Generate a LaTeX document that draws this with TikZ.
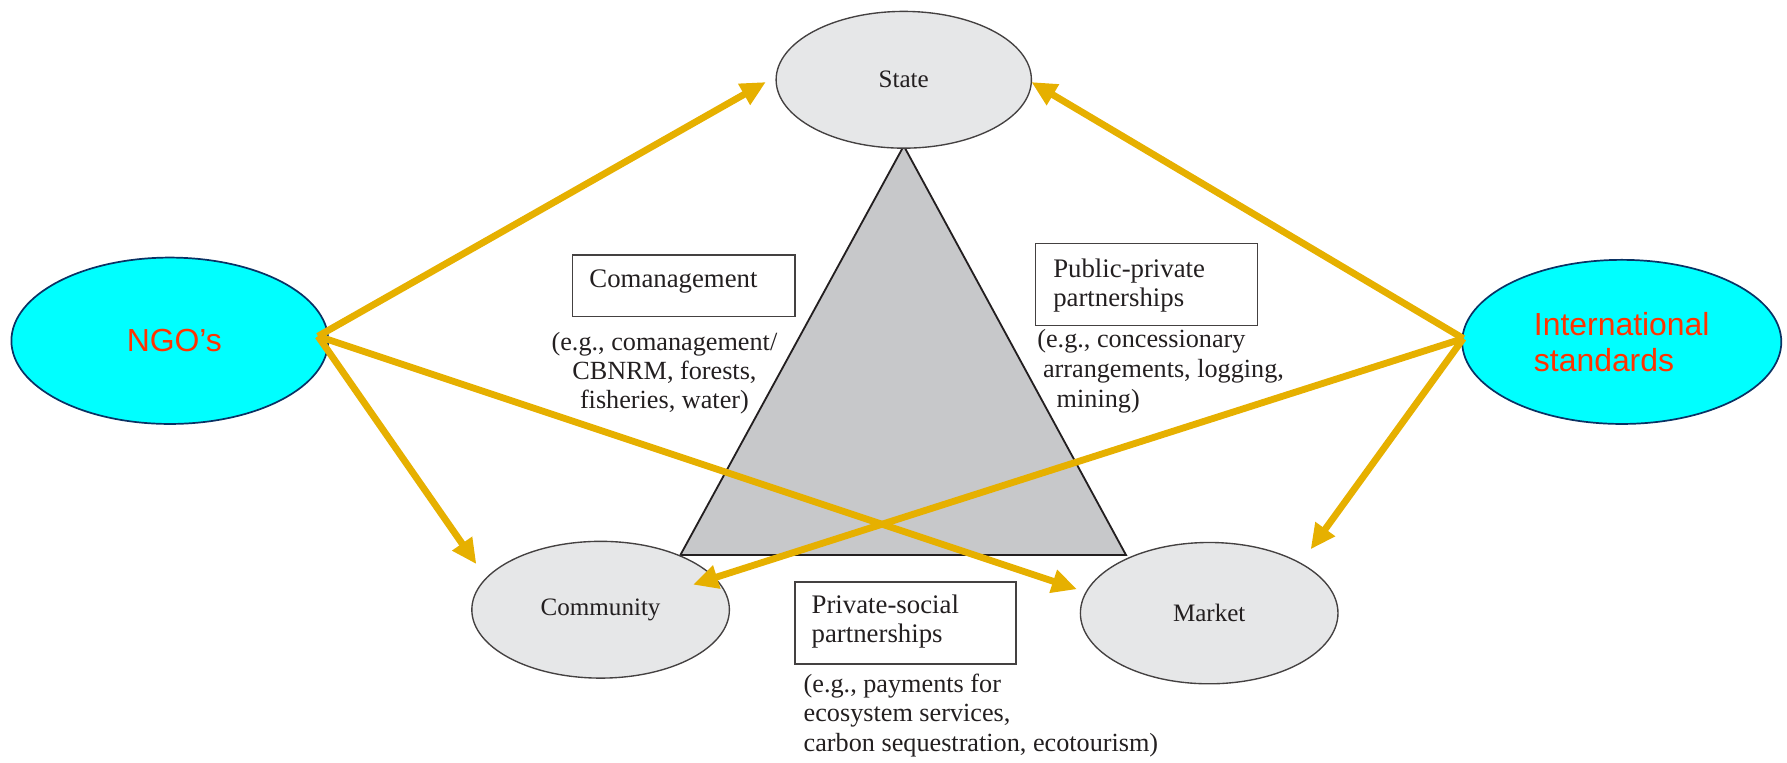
\documentclass[tikz,border=0pt]{standalone}
\usepackage{fontspec}
\setmainfont{Liberation Serif}
\newfontfamily\arialf{Liberation Sans}
\usetikzlibrary{shapes.geometric,arrows.meta}
\definecolor{ellgray}{RGB}{230,231,232}
\definecolor{trigray}{RGB}{199,200,202}
\definecolor{aqua}{RGB}{0,255,255}
\definecolor{ngored}{RGB}{255,51,0}
\definecolor{navyline}{RGB}{10,50,100}
\definecolor{gold}{RGB}{230,176,0}
\definecolor{ink}{RGB}{35,31,32}
\begin{document}
\begin{tikzpicture}[x=1pt,y=-1pt,
  grayell/.style={ellipse, draw=ink!85, line width=1.2pt, fill=ellgray, inner sep=0pt, text=ink,
    font=\fontsize{22}{26}\selectfont},
  cyanell/.style={ellipse, draw=navyline, line width=1.5pt, fill=aqua, inner sep=0pt, text=ngored,
    align=left, font=\arialf\fontsize{28}{32}\selectfont},
  labbox/.style={draw=ink!85, line width=1.2pt, fill=white, inner sep=0pt, anchor=north west},
  boxtext/.style={align=left, inner sep=0pt, text=ink, font=\fontsize{23.5}{25.5}\selectfont},
  desc/.style={inner sep=0pt, text=ink, font=\fontsize{23}{26}\selectfont},
  conn/.style={draw=gold, line width=6pt, -{Triangle[length=22pt,width=20pt]}}]
\useasboundingbox (0,0) rectangle (1568,669);
% triangle
\coordinate (apex) at (793,128);
\coordinate (bl) at (597,487);
\coordinate (br) at (988,487);
\filldraw[fill=trigray, draw=ink, line width=1.6pt, line join=miter] (apex) -- (bl) -- (br) -- cycle;
% ellipses
\node[grayell, minimum width=224, minimum height=120] (state) at (793,70) {State};
\node[grayell, minimum width=226, minimum height=120] (community) at (527,535) {Community};
\node[grayell, minimum width=226, minimum height=124] (market) at (1061,538) {Market};
\node[cyanell, minimum width=278, minimum height=146] (ngo) at (149,299) {\hspace{8pt}NGO’s};
\node[cyanell, minimum width=280, minimum height=144] (intl) at (1423,300) {International\\standards};
% boxes
\node[labbox, minimum width=195, minimum height=54] (cobox) at (502,223) {};
\node[boxtext, anchor=base west] (cotext) at (517,252) {Comanagement};
\node[labbox, minimum width=195, minimum height=72] (ppbox) at (908,213) {};
\node[boxtext, anchor=north west] (pptext) at (924,227) {Public-private\\partnerships};
\node[labbox, minimum width=194, minimum height=72] (psbox) at (697,510) {};
\node[boxtext, anchor=north west] (pstext) at (712,522) {Private-social\\partnerships};
% descriptions
\node[desc, align=center, anchor=north, font=\fontsize{23}{25.5}\selectfont] (codesc) at (583,291) {(e.g., comanagement/\\CBNRM, forests,\\fisheries, water)};
\node[desc, align=left, anchor=north west] (ppdesc) at (910,289) {(e.g., concessionary\\\hspace{5pt}arrangements, logging,\\\hspace{17pt}mining)};
\node[desc, align=left, anchor=north west] (psdesc) at (705,591) {(e.g., payments for\\ecosystem services,\\carbon sequestration, ecotourism)};
% connector end points
\coordinate (ngoOut) at ([shift={(130,-4)}]ngo.center);
\coordinate (intlOut) at ([shift={(-139,-3)}]intl.center);
\coordinate (tipNS) at ([shift={(-121,2)}]state.center);
\coordinate (tipIS) at ([shift={(112,2)}]state.center);
\coordinate (tipNC) at ([shift={(-109,-40)}]community.center);
\coordinate (tipIC) at ([shift={(81,-22)}]community.center);
\coordinate (tipNM) at ([shift={(-116,-21)}]market.center);
\coordinate (tipIM) at ([shift={(89,-56)}]market.center);
% connectors
\draw[conn] (ngoOut) -- (tipNS);
\draw[conn] (ngoOut) -- (tipNM);
\draw[conn] (ngoOut) -- (tipNC);
\draw[conn] (intlOut) -- (tipIS);
\draw[conn] (intlOut) -- (tipIC);
\draw[conn] (intlOut) -- (tipIM);
\end{tikzpicture}
\end{document}
